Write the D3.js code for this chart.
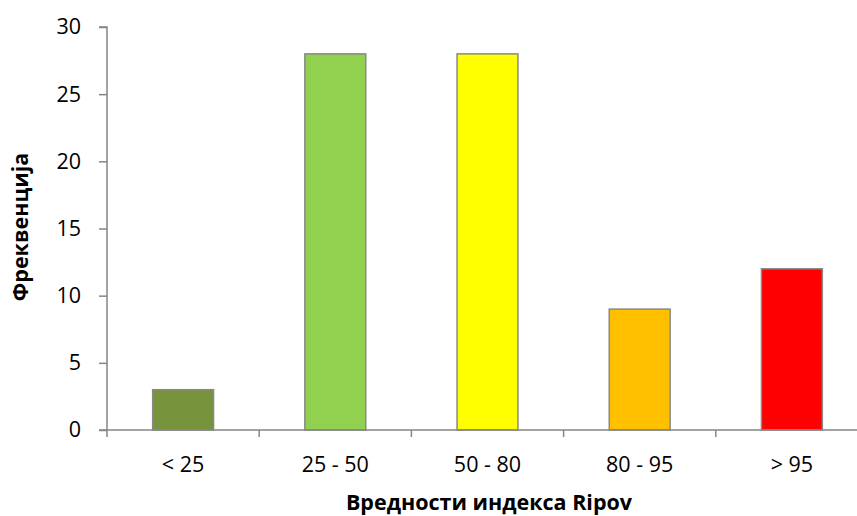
<!DOCTYPE html>
<html><head><meta charset="utf-8">
<script src="https://cdn.jsdelivr.net/npm/d3@7"></script>
<style>
html,body{margin:0;padding:0;background:#fff;}
svg{display:block;}
text{font-family:"Open Sans",sans-serif;fill:#000;}
</style></head><body>
<svg id="c" width="857" height="516"></svg>
<script>
const categories = ["< 25", "25 - 50", "50 - 80", "80 - 95", "> 95"];
const values = [3, 28, 28, 9, 12];
const colors = ["#77933C", "#92D050", "#FFFF00", "#FFC000", "#FF0000"];
const yTicks = [0, 5, 10, 15, 20, 25, 30];
const yTitle = "Фреквенција";
const xTitle = "Вредности индекса Ripov";

const svg = d3.select("#c");
const mLeft = 107, mTop = 27, mBottom = 430, bandW = 152.2;
const x = d3.scaleBand().domain(categories).range([mLeft, mLeft + bandW * 5]).paddingInner(0.6).paddingOuter(0.3);
const y = d3.scaleLinear().domain([0, 30]).range([mBottom, mTop]);
const axisColor = "#868686";

// bars
svg.append("g").selectAll("rect").data(values).join("rect")
  .attr("x", (d, i) => x(categories[i]))
  .attr("y", d => y(d))
  .attr("width", x.bandwidth())
  .attr("height", d => y(0) - y(d))
  .attr("fill", (d, i) => colors[i])
  .attr("stroke", "#888888")
  .attr("stroke-width", 1.5);

// y axis
const ya = svg.append("g").attr("transform", `translate(${mLeft},0)`)
  .call(d3.axisLeft(y).tickValues(yTicks).tickSize(8).tickPadding(18));
ya.select(".domain").attr("stroke", axisColor).attr("stroke-width", 1.5).attr("d", `M-8,${mTop}H0V${mBottom}H-8`);
ya.selectAll(".tick line").attr("stroke", axisColor).attr("stroke-width", 1.5);
ya.selectAll(".tick text").style("font-size", "21.5px").style("font-family", '"Open Sans",sans-serif').attr("fill", "#000");

// x axis
const xEnd = mLeft + bandW * 5;
const xa = svg.append("g").attr("transform", `translate(0,${mBottom})`);
xa.append("line").attr("x1", mLeft).attr("x2", xEnd).attr("stroke", axisColor).attr("stroke-width", 1.5);
const boundaries = d3.range(6).map(i => mLeft + bandW * i);
xa.selectAll(".tk").data(boundaries).join("line").attr("class", "tk")
  .attr("x1", d => d).attr("x2", d => d).attr("y1", 0).attr("y2", 7)
  .attr("stroke", axisColor).attr("stroke-width", 1.5);
xa.selectAll(".lbl").data(categories).join("text").attr("class", "lbl")
  .attr("x", d => x(d) + x.bandwidth() / 2).attr("y", 42)
  .attr("text-anchor", "middle").style("font-size", "21.5px").text(d => d);

// titles
svg.append("text").attr("x", 489).attr("y", 510).attr("text-anchor", "middle")
  .style("font-size", "21.5px").style("font-weight", "bold").text(xTitle);
svg.append("text").attr("transform", "translate(28,227) rotate(-90)").attr("text-anchor", "middle")
  .style("font-size", "21.5px").style("font-weight", "bold").text(yTitle);
</script>
</body></html>
